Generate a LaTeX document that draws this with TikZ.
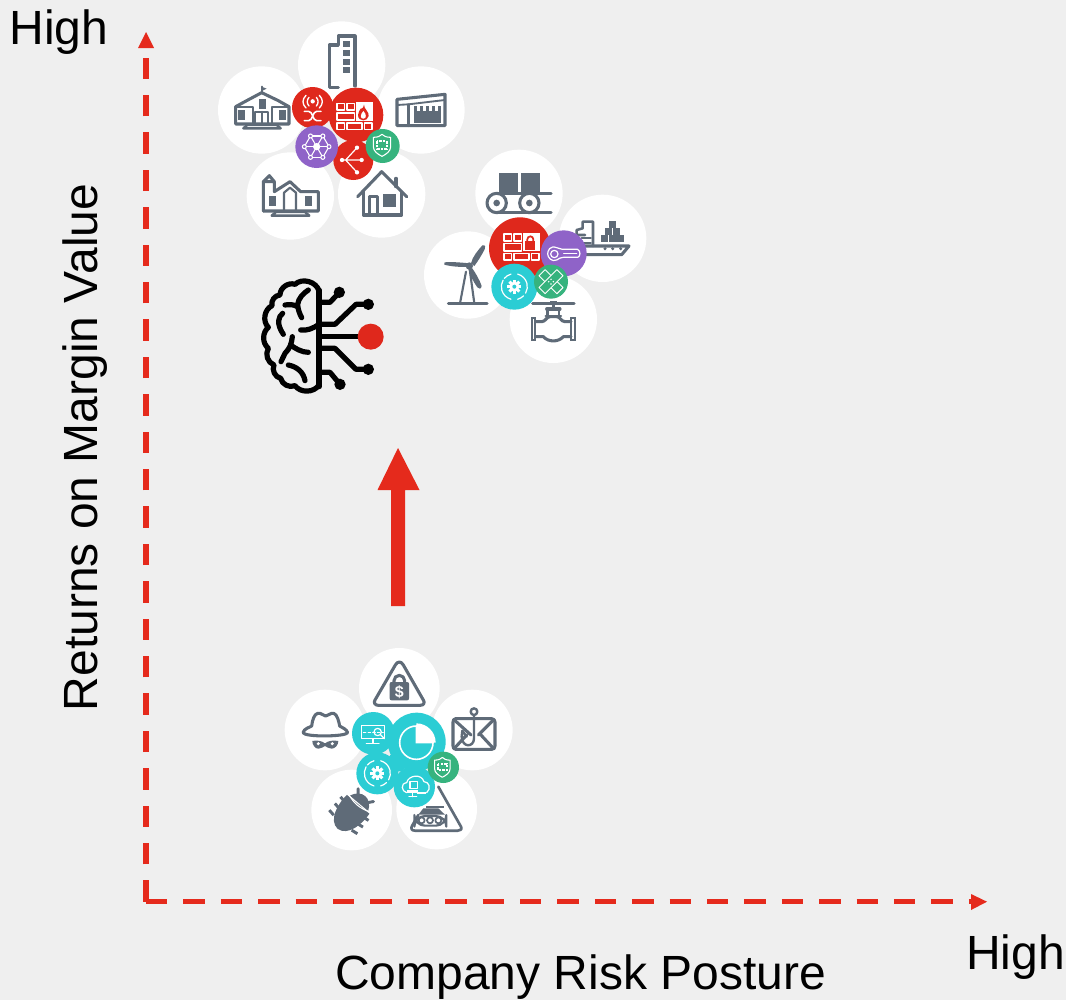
\documentclass[tikz,border=0pt]{standalone}
\usepackage{fontspec}
\setmainfont{Liberation Sans}
\definecolor{bgc}{HTML}{EFEFEF}
\definecolor{icong}{HTML}{5F6B78}
\definecolor{redc}{HTML}{DF281C}
\definecolor{axisred}{HTML}{E52A1C}
\definecolor{purplec}{HTML}{8F63C8}
\definecolor{tealc}{HTML}{2BCDD4}
\definecolor{greenc}{HTML}{36B37E}
\tikzset{
  zoomed/.style={x=0.25pt,y=-0.25pt},
  halo/.style={fill=white,draw=none},
  ic/.style={draw=icong,line width=2.3pt,line join=round,line cap=round,fill=none},
  icf/.style={fill=icong,draw=none},
  wh/.style={draw=white,line width=1.1pt,line join=round,line cap=round,fill=none},
  whf/.style={fill=white,draw=none},
  label/.style={font=\fontsize{36}{36}\selectfont,text=black,inner sep=0pt,anchor=base},
  axisline/.style={draw=axisred,line width=4pt,dash pattern=on 16.05pt off 12pt},
  blk/.style={draw=black,line width=3.9pt,line cap=round,line join=round,fill=none}
}
\newcommand{\shieldicon}[3]{% centre x,y, scale
 \begin{scope}[shift={(#1,#2)},scale=#3]
  \draw[wh,line width=.8pt] (-26,-24) .. controls (-12,-24) and (-5,-28) .. (0,-33) .. controls (5,-28) and (12,-24) .. (26,-24) -- (26,4) .. controls (26,18) and (12,27) .. (0,33) .. controls (-12,27) and (-26,18) .. (-26,4) -- cycle;
  \draw[draw=white,line width=1.5pt,dash pattern=on 1.8pt off .9pt] (-14,-12) rectangle (14,10);
 \end{scope}}
\newcommand{\gearicon}[2]{% centre
 \begin{scope}[shift={(#1,#2)}]
  \fill[white] (0,0) circle (15);
  \foreach \a in {0,45,...,315} \fill[white,rotate=\a] (-4.5,10) rectangle (4.5,21);
  \fill[tealc] (0,0) circle (6);
  \draw[wh,line width=.9pt] (-75:39) arc (-75:30:39);
  \draw[wh,line width=.9pt] (105:39) arc (105:210:39);
  \draw[wh,line width=.9pt] (-140:39) arc (-140:-105:39);
  \draw[wh,line width=.9pt] (45:39) arc (45:75:39);
 \end{scope}}
\newcommand{\firewall}[2]{% top-left of the grid
 \begin{scope}[shift={(#1,#2)}]
  \draw[wh,line width=1.25pt,line cap=butt] (0,0) rectangle (22,20) (30,0) rectangle (52,20) (0,28) rectangle (52,50) (0,58) rectangle (22,78) (30,58) rectangle (75,78) (82,58) rectangle (104,78);
  \fill[white] (57,-3) rectangle (107,52);
 \end{scope}}
\begin{document}
\begin{tikzpicture}[x=0.75pt,y=-0.75pt]
\useasboundingbox (0,0) rectangle (1066,1000);
\fill[bgc] (0,0) rectangle (1066,1000);

% ---------- axes
\coordinate (origin) at (146,901.7);
\coordinate (ytip) at (146,32);
\coordinate (xtip) at (987,901.7);
\draw[axisline] (origin) -- (146,50);
\draw[axisline] (origin) -- (974,901.7);
\fill[axisred] (ytip) -- (154,48) -- (138,48) -- cycle;
\fill[axisred] (xtip) -- (971,894) -- (971,910) -- cycle;

% ---------- texts
\node[label] (hightop) at (59,44.5) {High};
\node[label] (highright) at (1015.5,969) {High};
\node[label] (xlabel) at (580.5,989) {Company Risk Posture};
\node[label,rotate=90] (ylabel) at (97,447.5) {Returns on Margin Value};

% ---------- big arrow
\fill[axisred] (391,606) -- (405,606) -- (405,490) -- (419.5,490) -- (398,448) -- (377.5,490) -- (391,490) -- cycle;

% ---------- top cluster
\begin{scope}[shift={(210,10)},zoomed]
 \foreach \x/\y in {395/165,155/300,633/300,241/558,515/552} \fill[halo] (\x,\y) circle (131);
 % office tower
 \draw[ic] (385,232) -- (358,232) -- (358,105) -- (385,105) -- (385,78) -- (435,78) -- (435,228);
 \foreach \y in {93,120,146,171} \fill[icf] (399,\y) rectangle (420,\y+18);
 % school
 \draw[ic] (77,342) -- (237,342) -- (237,290) -- (205,272) -- (155,248) -- (110,272) -- (77,290) -- cycle;
 \draw[ic,line width=1.6pt] (77,292) -- (128,292) -- (128,340) (237,292) -- (185,292) -- (185,340);
 \draw[ic,line width=1.4pt] (155,248) -- (155,230);
 \fill[icf] (155,230) -- (170,236) -- (155,243) -- cycle;
 \fill[icf] (147,267) rectangle (167,296);
 \fill[icf] (84,300) rectangle (105,330);
 \fill[icf] (207,300) rectangle (228,330);
 \draw[ic,line width=1.6pt] (135,340) -- (135,306) -- (175,306) -- (175,340) (155,306) -- (155,340);
 \draw[ic,line width=1.8pt] (100,355) -- (212,355) -- (200,345) -- (112,345) -- cycle;
 % store
 \draw[ic] (561,268) -- (705,253) -- (705,347) -- (561,347) -- cycle;
 \draw[ic,line width=1.4pt] (561,285) -- (595,283) -- (705,270);
 \draw[ic] (595,285) -- (595,347);
 \fill[icf] (612,303) rectangle (692,338);
 \foreach \x in {612,630,648,666,684} \fill[icf] (\x,288) rectangle (\x+8,302);
 % church
 \draw[ic] (160,603) -- (160,515) -- (178,497) -- (193,515) -- (193,545) (160,515) -- (193,515);
 \draw[ic] (160,603) -- (325,603) -- (325,545) -- (272,545) -- (240,515) -- (193,545);
 \fill[icf] (177,558) rectangle (197,588);
 \fill[icf] (285,558) rectangle (305,588);
 \draw[ic,line width=1.6pt] (222,600) -- (222,548) -- (240,533) -- (258,548) -- (258,600);
 \draw[ic,line width=1.8pt] (185,617) -- (298,617) -- (285,606) -- (198,606) -- cycle;
 % house
 \draw[ic] (443,560) -- (515,485) -- (590,560);
 \draw[ic] (558,505) -- (558,530);
 \draw[ic] (460,545) -- (460,615) -- (575,615) -- (575,545);
 \draw[ic] (478,615) -- (478,560) -- (503,560) -- (503,615);
 \fill[icf] (520,552) rectangle (558,590);
 % coloured discs
 \fill[redc] (308,293) circle (62);
 \fill[redc] (438,315) circle (82);
 \fill[redc] (430,450) circle (60);
 \fill[purplec] (320,410) circle (64);
 \fill[greenc] (518,408) circle (51);
 % firewall with flame
 \firewall{381}{280}
 \fill[redc] (462,284) .. controls (462,298) and (478,305) .. (476,318) .. controls (475,327) and (466,331) .. (460,331) .. controls (452,331) and (444,326) .. (444,315) .. controls (444,305) and (450,302) .. (452,296) .. controls (455,298) and (460,294) .. cycle;
 \fill[white] (460,303) .. controls (470,312) and (470,326) .. (460,326) .. controls (450,326) and (450,314) .. (460,303);
 % radio switch
 \fill[white] (308,274) circle (6.5);
 \draw[wh,line width=1pt] (297,262) .. controls (290,270) and (290,280) .. (297,288) (319,262) .. controls (326,270) and (326,280) .. (319,288) (288,256) .. controls (276,268) and (276,282) .. (288,294) (328,256) .. controls (340,268) and (340,282) .. (328,294);
 \draw[wh,line width=1.2pt] (283,304) -- (296,304) .. controls (308,304) and (308,332) .. (320,332) -- (333,332) (283,332) -- (296,332) .. controls (308,332) and (308,304) .. (320,304) -- (333,304);
 % hexagon network
 \begin{scope}[shift={(320,410)}]
  \foreach \a in {0,60,...,300} {\draw[wh,line width=.8pt] (0,0) -- (\a:37); \draw[wh,line width=.8pt] (\a:37) -- (\a+60:37);}
  \foreach \a in {0,60,...,300} \draw[wh,line width=.8pt,fill=purplec] (\a:37) circle (6);
  \fill[white] (0,0) circle (11);
 \end{scope}
 % fan-out arrows
 \draw[wh,line width=.9pt] (396,450) -- (455,450) (407,450) -- (441,413) (407,450) -- (441,487);
 \foreach \x/\y in {396/450,455/450,441/413,441/487} \fill[white] (\x,\y) circle (6.5);
 \shieldicon{516}{406}{1}
\end{scope}

% ---------- right cluster
\begin{scope}[shift={(415,140)},zoomed]
 \foreach \x/\y in {312/160,563/295,158/405,415/538} \fill[halo] (\x,\y) circle (131);
 % conveyor
 \fill[icf] (252,99) rectangle (308,155);
 \fill[icf] (318,99) rectangle (375,155);
 \draw[ic] (245,160) -- (408,160) (245,218) -- (408,218);
 \draw[ic] (245,189) circle (29);
 \draw[ic] (343,189) circle (29);
 \fill[icf] (245,189) circle (10);
 \fill[icf] (343,189) circle (10);
 % ship
 \draw[ic] (485,318) -- (642,318) -- (620,344) -- (510,344);
 \draw[ic,line width=1.9pt] (534,318) -- (534,245) -- (503,245) -- (503,265) -- (485,270) -- (485,285) -- (510,285);
 \draw[ic,line width=1.3pt] (500,295) -- (528,295) (500,308) -- (528,308);
 \foreach \x/\y in {558/285,581/285,604/285,570/264,593/264,582/243} \fill[icf] (\x,\y) rectangle (\x+22,\y+20);
 \foreach \x in {570,593,617} \fill[icf] (\x,326) circle (5);
 % turbine
 \fill[icf] (163,378) circle (11);
 \fill[icf] (163,380) .. controls (140,382) and (110,380) .. (88,374) .. controls (85,368) and (90,366) .. (95,366) .. controls (120,366) and (145,368) .. (163,370) -- cycle;
 \fill[icf] (168,370) .. controls (172,350) and (190,330) .. (202,316) .. controls (212,314) and (212,322) .. (209,328) .. controls (200,345) and (190,362) .. (178,378) -- cycle;
 \fill[icf] (172,385) .. controls (182,400) and (194,420) .. (200,438) .. controls (198,448) and (192,448) .. (187,442) .. controls (175,425) and (165,405) .. (160,388) -- cycle;
 \draw[ic,line width=1.6pt] (135,490) -- (153,395) (178,490) -- (165,395);
 \draw[ic] (100,491) -- (216,491);
 % valve
 \draw[ic] (353,491) -- (477,491);
 \fill[icf] (405,482) rectangle (425,491);
 \draw[ic] (415,491) -- (415,505) (395,507) -- (435,507);
 \draw[ic,line width=1.8pt] (398,507) -- (398,528) (432,507) -- (432,528) (392,528) -- (438,528);
 \fill[icf] (347,530) rectangle (364,604);
 \fill[icf] (466,530) rectangle (484,604);
 \fill[white] (353,537) rectangle (358,597);
 \fill[white] (472,537) rectangle (478,597);
 \draw[ic] (362,545) -- (380,545) .. controls (392,545) and (394,530) .. (405,530) -- (425,530) .. controls (436,530) and (438,545) .. (450,545) -- (468,545);
 \draw[ic] (362,590) -- (385,590) .. controls (400,607) and (430,607) .. (445,590) -- (468,590);
 % coloured discs
 \fill[redc] (315,325) circle (93);
 \fill[purplec] (446,340) circle (69);
 \fill[tealc] (298,440) circle (69);
 \fill[greenc] (408,425) circle (51);
 % firewall with padlock
 \firewall{267}{282}
 \fill[redc] (331,304) rectangle (361,331);
 \draw[redc,line width=1.3pt] (337,304) -- (337,298) arc (180:360:9) -- (355,304);
 % key
 \draw[wh,line width=.9pt] (425,323) .. controls (405,315) and (398,332) .. (398,342) .. controls (398,352) and (410,367) .. (425,360) .. controls (432,355) and (438,352) .. (445,352) -- (488,352) .. controls (497,350) and (497,332) .. (488,328) -- (442,328) .. controls (435,328) and (432,326) .. (425,323) -- cycle;
 \draw[wh,line width=.9pt] (418,342) circle (11);
 \draw[wh,line width=.9pt] (446,340) -- (485,340);
 % plaster
 \begin{scope}[shift={(408,425)}]
  \draw[wh,line width=.7pt,rotate=-45] (-38,-13) rectangle (38,13);
  \draw[wh,line width=.7pt,fill=greenc,rotate=45] (-38,-13) rectangle (38,13);
  \foreach \a in {0,90,180,270} \fill[white,rotate=\a] (7,0) circle (2.5);
 \end{scope}
 \gearicon{298}{440}
\end{scope}

% ---------- bottom cluster
\begin{scope}[shift={(275,640)},zoomed]
 \foreach \x/\y in {373/145,150/270,592/270,230/510,485/507} \fill[halo] (\x,\y) circle (121);
 % lock triangle
 \draw[ic] (300,180) .. controls (295,188) and (300,196) .. (310,196) -- (435,196) .. controls (447,196) and (450,188) .. (445,180) -- (385,75) .. controls (378,63) and (368,63) .. (361,75) -- cycle;
 \fill[icf] (344,132) .. controls (344,128) and (346,126) .. (350,126) -- (396,126) .. controls (400,126) and (402,128) .. (402,132) -- (402,175) .. controls (402,179) and (400,181) .. (396,181) -- (350,181) .. controls (346,181) and (344,179) .. (344,175) -- cycle;
 \draw[ic] (357,127) -- (357,122) arc (180:360:16) -- (389,127);
 \node[font=\bfseries\fontsize{12}{12}\selectfont,text=white,inner sep=0pt] (dollar) at (373,155) {\$};
 % spy hat
 \draw[ic,fill=white] (84,278) .. controls (87,265) and (105,262) .. (110,258) .. controls (112,240) and (118,222) .. (128,220) .. controls (140,218) and (145,228) .. (152,228) .. controls (160,228) and (165,218) .. (176,220) .. controls (186,222) and (192,245) .. (194,258) .. controls (200,262) and (216,268) .. (218,278) .. controls (213,290) and (90,292) .. (84,278) -- cycle;
 \fill[icf] (112,303) .. controls (125,300) and (140,302) .. (150,310) .. controls (160,302) and (175,300) .. (190,303) .. controls (190,315) and (180,326) .. (170,326) .. controls (160,326) and (155,320) .. (150,318) .. controls (145,320) and (140,326) .. (130,326) .. controls (120,326) and (112,315) .. (112,303) -- cycle;
 \fill[white] (130,311) circle (5) (172,311) circle (5);
 % phishing envelope
 \draw[ic] (542,236) -- (650,236) .. controls (656,236) and (660,240) .. (660,246) -- (660,318) .. controls (660,324) and (656,328) .. (650,328) -- (542,328) .. controls (537,328) and (534,324) .. (534,318) -- (534,246) .. controls (534,240) and (537,236) .. (542,236) -- cycle;
 \draw[ic] (538,240) -- (588,285) (655,240) -- (610,285) (538,325) -- (575,285) (655,325) -- (618,285);
 \draw[ic,line width=1.8pt] (597,215) circle (10);
 \draw[ic,line width=1.8pt] (597,226) -- (597,295) .. controls (597,322) and (562,325) .. (560,290) -- (562,272) -- (575,290);
 % bug
 \begin{scope}[shift={(225,522)},rotate=-40]
  \foreach \y in {-18,8,34} {\draw[ic,line width=2.2pt,line cap=butt] (-35,\y) -- (-55,\y-3) (35,\y) -- (55,\y-3);}
  \draw[ic,line width=2.2pt] (-20,-62) -- (-30,-74) (20,-62) -- (30,-74);
  \fill[icf] (-36,-42) .. controls (-20,-80) and (20,-80) .. (36,-42) -- cycle;
  \fill[icf] (-44,-38) -- (44,-38) .. controls (48,0) and (38,55) .. (0,58) .. controls (-38,55) and (-48,0) .. (-44,-38);
  \draw[white,line width=.8pt] (-38,-42) .. controls (-12,-32) and (12,-32) .. (38,-42);
 \end{scope}
 % tank triangle
 \draw[ic,line width=2pt] (490,440) -- (558,560) .. controls (562,568) and (556,572) .. (548,572) -- (420,572) .. controls (410,572) and (406,565) .. (412,556) -- (430,525);
 \fill[icf] (452,497) rectangle (506,504);
 \fill[icf] (430,524) -- (445,505) -- (490,505) -- (510,524) -- cycle;
 \draw[ic,fill=white,rounded corners=8pt,line width=1.6pt] (418,528) rectangle (514,557);
 \draw[ic,line width=1.3pt] (440,541) circle (9) (465,541) circle (9) (490,541) circle (9);
 % coloured discs
 \fill[tealc] (425,305) circle (87);
 \fill[tealc] (295,280) circle (64);
 \fill[tealc] (307,400) circle (63);
 \fill[tealc] (418,440) circle (62);
 \fill[tealc] (368,365) circle (30);
 \fill[greenc] (505,382) circle (47);
 % pie
 \draw[white,line width=1.2pt] (424,258) arc (-90:-360:50) -- (424,308) -- cycle;
 \fill[white] (424,250) arc (-90:0:58) -- (424,308) -- cycle;
 % monitor
 \draw[wh,line width=.9pt] (260,256) rectangle (328,296);
 \draw[wh,line width=.9pt] (294,296) -- (294,310) (274,310) -- (312,310);
 \draw[wh,line width=.9pt] (308,276) circle (11) (316,284) -- (328,296);
 \draw[wh,line width=.7pt,dash pattern=on 2pt off 1.5pt] (265,276) -- (325,276);
 % cloud
 \draw[wh,line width=.9pt] (395,458) .. controls (380,455) and (375,430) .. (395,428) .. controls (400,405) and (440,400) .. (447,425) .. controls (462,425) and (470,445) .. (455,458);
 \draw[wh,line width=.9pt,fill=tealc] (405,425) rectangle (428,445);
 \fill[white] (396,450) rectangle (430,458);
 \fill[white] (425,455) rectangle (452,462);
 \draw[wh,line width=.9pt] (412,458) -- (412,470) (402,470) -- (425,470);
 \gearicon{307}{400}
 \shieldicon{502}{382}{.9}
\end{scope}

% ---------- brain
\begin{scope}[shift={(250,265)},zoomed]
 \draw[blk] (207,75) -- (207,365);
 \draw[blk] (207,78) to[bend right=60] (135,58) to[bend right=55] (90,90) to[bend right=50] (66,122) to[bend right=55] (55,187) to[bend right=50] (55,250) to[bend right=50] (72,300) to[bend right=50] (92,340) to[bend right=50] (135,362) to[bend right=55] (207,360);
 \draw[blk] (175,75) .. controls (160,85) and (145,100) .. (143,118) .. controls (143,130) and (148,145) .. (155,158);
 \draw[blk] (105,120) .. controls (118,118) and (130,118) .. (143,125);
 \draw[blk] (98,145) .. controls (85,155) and (78,175) .. (100,208);
 \draw[blk] (152,195) .. controls (170,198) and (190,190) .. (207,178);
 \draw[blk] (127,215) .. controls (125,235) and (120,250) .. (105,265) -- (93,290);
 \draw[blk] (122,240) .. controls (135,250) and (155,262) .. (175,262);
 \draw[blk] (115,300) .. controls (140,305) and (160,320) .. (165,347);
 % circuit
 \draw[blk] (207,112) -- (240,112) -- (268,82);
 \draw[blk] (207,178) -- (255,178) -- (318,118) -- (355,118);
 \draw[blk] (207,215) -- (360,215);
 \draw[blk] (207,250) -- (255,250) -- (318,313) -- (355,313);
 \draw[blk] (207,322) -- (240,322) -- (270,358);
 \foreach \x/\y in {268/82,355/118,355/313,270/358} \fill[black] (\x,\y) circle (17);
 \fill[redc] (362,215) circle (39);
\end{scope}
\end{tikzpicture}
\end{document}
